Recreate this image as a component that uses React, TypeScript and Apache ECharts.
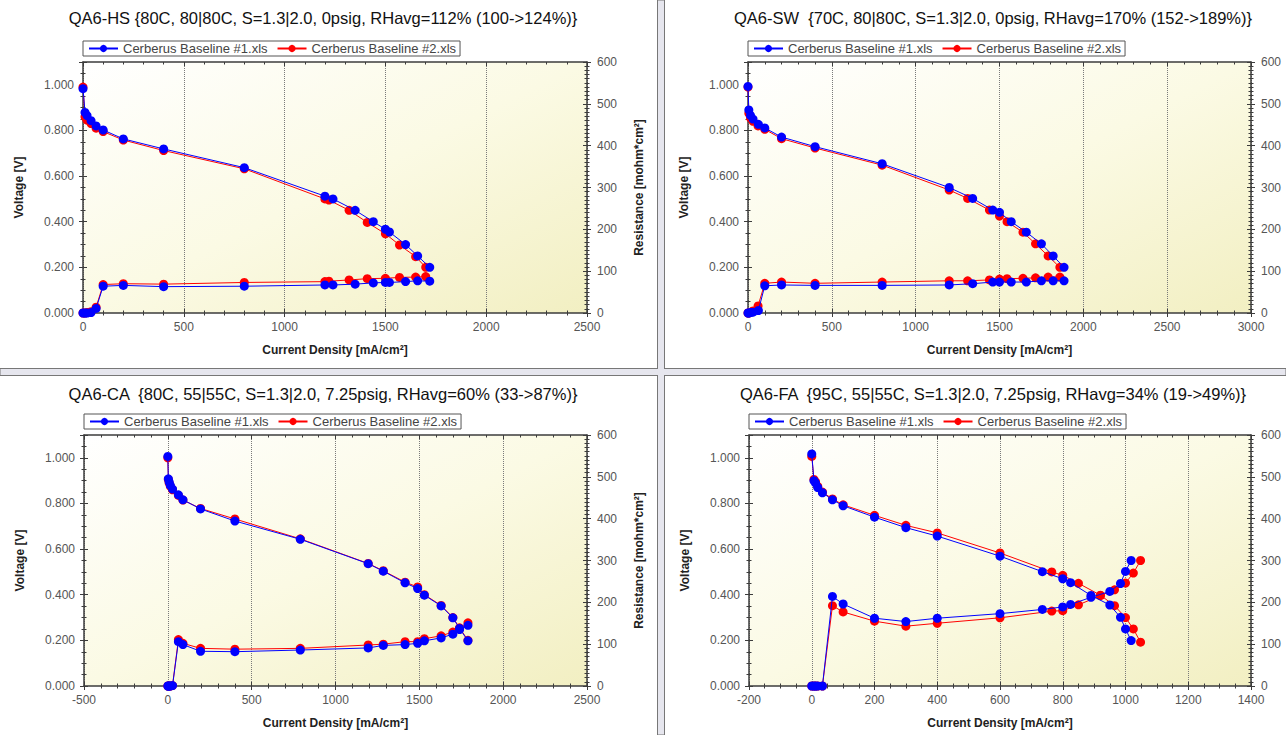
import React, { useEffect, useRef } from "react";
import * as echarts from "echarts";

const NAME1 = "Cerberus Baseline #1.xls";
const NAME2 = "Cerberus Baseline #2.xls";

// ---------- Panel titles ----------
const titles = [
  "QA6-HS {80C, 80|80C, S=1.3|2.0, 0psig, RHavg=112% (100->124%)}",
  "QA6-SW  {70C, 80|80C, S=1.3|2.0, 0psig, RHavg=170% (152->189%)}",
  "QA6-CA  {80C, 55|55C, S=1.3|2.0, 7.25psig, RHavg=60% (33->87%)}",
  "QA6-FA  {95C, 55|55C, S=1.3|2.0, 7.25psig, RHavg=34% (19->49%)}",
];

// ---------- QA6-HS ----------
const hs1Current = [0, 10, 20, 40, 65, 100, 200, 400, 800, 1200, 1240, 1350, 1440, 1500, 1520, 1600, 1660, 1720];
const hs1Voltage = [0.983, 0.879, 0.865, 0.843, 0.82, 0.802, 0.763, 0.719, 0.637, 0.512, 0.5, 0.45, 0.4, 0.367, 0.355, 0.3, 0.25, 0.2];
const hs1Resist = [0, 0, 0, 1, 11, 64, 66, 63, 64, 67, 67, 69, 72, 73, 73, 75, 77, 76];
const hs2Current = [0, 10, 20, 40, 65, 100, 200, 400, 800, 1200, 1220, 1320, 1410, 1500, 1570, 1650, 1700];
const hs2Voltage = [0.99, 0.86, 0.845, 0.83, 0.81, 0.795, 0.758, 0.712, 0.632, 0.5, 0.495, 0.45, 0.397, 0.347, 0.298, 0.247, 0.2];
const hs2Resist = [0, 0, 1, 3, 14, 68, 70, 69, 73, 75, 76, 79, 82, 83, 85, 86, 87];

// ---------- QA6-SW ----------
const sw1Current = [0, 5, 15, 30, 62, 100, 200, 400, 800, 1200, 1340, 1460, 1500, 1570, 1660, 1750, 1820, 1885];
const sw1Voltage = [0.993, 0.89, 0.866, 0.85, 0.827, 0.811, 0.771, 0.729, 0.654, 0.55, 0.502, 0.451, 0.441, 0.4, 0.354, 0.303, 0.25, 0.2];
const sw1Resist = [0, 0, 1, 2, 6, 65, 67, 66, 66, 67, 70, 74, 74, 74, 74, 77, 77, 77];
const sw2Current = [0, 5, 15, 30, 60, 100, 200, 400, 800, 1200, 1310, 1440, 1500, 1545, 1640, 1715, 1790, 1860];
const sw2Voltage = [0.99, 0.875, 0.855, 0.84, 0.82, 0.805, 0.764, 0.723, 0.648, 0.539, 0.502, 0.451, 0.425, 0.4, 0.354, 0.303, 0.25, 0.2];
const sw2Resist = [0, 0, 2, 5, 17, 71, 74, 71, 74, 77, 77, 79, 81, 82, 83, 84, 86, 86];

// ---------- QA6-CA ----------
const ca1Current = [0, 3, 8, 15, 28, 63, 90, 195, 400, 790, 1195, 1285, 1415, 1490, 1530, 1630, 1700, 1740, 1790];
const ca1Voltage = [1.006, 0.908, 0.894, 0.879, 0.863, 0.838, 0.816, 0.776, 0.723, 0.643, 0.536, 0.503, 0.452, 0.427, 0.398, 0.351, 0.299, 0.252, 0.198];
const ca1Resist = [0, 0, 0, 0, 1, 106, 99, 83, 82, 86, 91, 97, 99, 102, 108, 115, 124, 135, 145];
const ca2Current = [0, 3, 8, 15, 28, 63, 90, 195, 400, 790, 1195, 1285, 1415, 1490, 1530, 1630, 1700, 1740, 1790];
const ca2Voltage = [1.0, 0.905, 0.89, 0.875, 0.86, 0.835, 0.815, 0.778, 0.732, 0.645, 0.537, 0.505, 0.455, 0.434, 0.4, 0.353, 0.3, 0.255, 0.2];
const ca2Resist = [0, 0, 0, 0, 1, 111, 102, 90, 88, 90, 98, 100, 106, 106, 113, 120, 129, 137, 151];

// ---------- QA6-FA ----------
const fa1Current = [0, 7, 12, 19, 34, 66, 100, 200, 300, 400, 600, 735, 800, 825, 890, 950, 984, 1000, 1018];
const fa1Voltage = [1.017, 0.9, 0.89, 0.87, 0.847, 0.816, 0.79, 0.74, 0.694, 0.657, 0.569, 0.501, 0.47, 0.453, 0.397, 0.355, 0.301, 0.25, 0.199];
const fa1Resist = [0, 0, 0, 0, 0, 214, 196, 162, 154, 162, 173, 183, 189, 195, 212, 226, 245, 274, 300];
const fa2Current = [0, 7, 12, 19, 34, 66, 100, 200, 300, 400, 600, 765, 800, 850, 920, 965, 1000, 1025, 1048];
const fa2Voltage = [1.006, 0.905, 0.895, 0.875, 0.85, 0.82, 0.794, 0.748, 0.704, 0.671, 0.583, 0.5, 0.485, 0.45, 0.398, 0.352, 0.3, 0.25, 0.192];
const fa2Resist = [0, 0, 0, 0, 0, 192, 177, 155, 143, 150, 163, 179, 180, 194, 216, 230, 246, 270, 300];

// ---------- Axis ranges ----------
const xRanges = [
  { min: 0, max: 2500, interval: 500, minor: 5 },
  { min: 0, max: 3000, interval: 500, minor: 5 },
  { min: -500, max: 2500, interval: 500, minor: 5 },
  { min: -200, max: 1400, interval: 200, minor: 4 },
];
const voltageAxis = { min: 0, max: 1.1, interval: 0.2, minor: 4 };
const resistAxis = { min: 0, max: 600, interval: 100, minor: 10 };

const xAxisName = "Current Density [mA/cm²]";
const yLeftName = "Voltage [V]";
const yRightName = "Resistance [mohm*cm²]";
// right-axis title only visible on the left-hand panels (right panels are cropped)
const showRightName = [true, false, true, false];

const panelData = [
  { c1: hs1Current, v1: hs1Voltage, r1: hs1Resist, c2: hs2Current, v2: hs2Voltage, r2: hs2Resist },
  { c1: sw1Current, v1: sw1Voltage, r1: sw1Resist, c2: sw2Current, v2: sw2Voltage, r2: sw2Resist },
  { c1: ca1Current, v1: ca1Voltage, r1: ca1Resist, c2: ca2Current, v2: ca2Voltage, r2: ca2Resist },
  { c1: fa1Current, v1: fa1Voltage, r1: fa1Resist, c2: fa2Current, v2: fa2Voltage, r2: fa2Resist },
];

// layout (pixels)
const gridBoxes = [
  { left: 83, top: 62, width: 504, height: 251, titleX: 323, titleY: 18 },
  { left: 748, top: 62, width: 503, height: 251, titleX: 993, titleY: 18 },
  { left: 84, top: 435, width: 503, height: 251, titleX: 323, titleY: 394 },
  { left: 749, top: 435, width: 502, height: 251, titleX: 993, titleY: 394 },
];

const FONT = '"Liberation Sans", Arial, Helvetica, sans-serif';
const AXIS_COLOR = "#3c3c3c";
const BLUE = "#0000ff";
const RED = "#ff0000";

function pairs(xs: number[], ys: number[]) {
  return xs.map((x, i) => [x, ys[i]]);
}

function buildOption() {
  const grid: any[] = [];
  const xAxis: any[] = [];
  const yAxis: any[] = [];
  const series: any[] = [];
  const legend: any[] = [];
  const graphic: any[] = [];

  const lineStyle = { color: AXIS_COLOR, width: 1.5 };
  const tickStyle = { color: AXIS_COLOR, width: 1 };

  gridBoxes.forEach((g, k) => {
    grid.push({
      left: g.left,
      top: g.top,
      width: g.width,
      height: g.height,
      containLabel: false,
      outerBoundsMode: "none",
      show: true,
      borderWidth: 0,
      backgroundColor: new echarts.graphic.LinearGradient(0, 0, 1, 1, [
        { offset: 0, color: "#ffffff" },
        { offset: 0.5, color: "#fbfae4" },
        { offset: 1, color: "#f2efc2" },
      ]),
    });
    const xr = xRanges[k];
    const xBase = { type: "value", gridIndex: k, min: xr.min, max: xr.max, interval: xr.interval };
    xAxis.push({
      ...xBase,
      position: "bottom",
      axisLine: { show: true, onZero: false, lineStyle },
      axisTick: { show: true, length: 4, lineStyle: tickStyle },
      minorTick: { show: true, splitNumber: xr.minor, length: 2.5, lineStyle: tickStyle },
      axisLabel: {
        show: true,
        margin: 8,
        fontSize: 12,
        color: "#555",
        fontFamily: FONT,
        formatter: (v: number) => String(v),
      },
      splitLine: { show: true, lineStyle: { type: "dotted", color: "#7a7a7a", width: 1 } },
      name: xAxisName,
      nameLocation: "middle",
      nameGap: 31,
      nameTextStyle: { fontWeight: "bold", fontSize: 12, color: "#222", fontFamily: FONT },
    });
    xAxis.push({
      ...xBase,
      position: "bottom",
      axisLine: { show: false, onZero: false },
      axisTick: { show: true, inside: true, length: 4, lineStyle: tickStyle },
      minorTick: { show: true, splitNumber: xr.minor, length: 2.5, lineStyle: tickStyle },
      axisLabel: { show: false },
      splitLine: { show: false },
    });
    xAxis.push({
      ...xBase,
      position: "top",
      axisLine: { show: true, onZero: false, lineStyle },
      axisTick: { show: true, inside: true, length: 4, lineStyle: tickStyle },
      minorTick: { show: true, splitNumber: xr.minor, length: 2.5, lineStyle: tickStyle },
      axisLabel: { show: false },
      splitLine: { show: false },
    });

    const vBase = { type: "value", gridIndex: k, min: voltageAxis.min, max: voltageAxis.max, interval: voltageAxis.interval };
    const rBase = { type: "value", gridIndex: k, min: resistAxis.min, max: resistAxis.max, interval: resistAxis.interval };
    yAxis.push({
      ...vBase,
      position: "left",
      axisLine: { show: true, onZero: false, lineStyle },
      axisTick: { show: true, length: 4, lineStyle: tickStyle },
      minorTick: { show: true, splitNumber: voltageAxis.minor, length: 2.5, lineStyle: tickStyle },
      axisLabel: {
        show: true,
        margin: 9,
        fontSize: 12,
        color: "#555",
        fontFamily: FONT,
        showMaxLabel: false,
        formatter: (v: number) => (v > 1.05 ? "" : v.toFixed(3)),
      },
      splitLine: { show: false },
      name: yLeftName,
      nameLocation: "middle",
      nameGap: 58,
      nameTextStyle: { fontWeight: "bold", fontSize: 12, color: "#222", fontFamily: FONT },
    });
    yAxis.push({
      ...vBase,
      position: "left",
      axisLine: { show: false, onZero: false },
      axisTick: { show: true, inside: true, length: 4, lineStyle: tickStyle },
      minorTick: { show: true, splitNumber: voltageAxis.minor, length: 2.5, lineStyle: tickStyle },
      axisLabel: { show: false },
      splitLine: { show: false },
    });
    yAxis.push({
      ...rBase,
      position: "right",
      axisLine: { show: true, onZero: false, lineStyle },
      axisTick: { show: true, length: 4, lineStyle: tickStyle },
      minorTick: { show: true, splitNumber: resistAxis.minor, length: 2.5, lineStyle: tickStyle },
      axisLabel: { show: true, margin: 10, fontSize: 12, color: "#555", fontFamily: FONT },
      splitLine: { show: false },
      name: showRightName[k] ? yRightName : "",
      nameLocation: "middle",
      nameGap: 46,
      nameTextStyle: { fontWeight: "bold", fontSize: 12, color: "#222", fontFamily: FONT },
    });
    yAxis.push({
      ...rBase,
      position: "right",
      axisLine: { show: false, onZero: false },
      axisTick: { show: true, inside: true, length: 4, lineStyle: tickStyle },
      minorTick: { show: true, splitNumber: resistAxis.minor, length: 2.5, lineStyle: tickStyle },
      axisLabel: { show: false },
      splitLine: { show: false },
    });

    const d = panelData[k];
    const mk = (name: string, color: string, data: number[][], yIdx: number, z: number) => ({
      type: "line",
      name,
      xAxisIndex: 3 * k,
      yAxisIndex: yIdx,
      data,
      symbol: "circle",
      symbolSize: 9,
      showSymbol: true,
      lineStyle: { color, width: 1 },
      itemStyle: { color },
      z,
      emphasis: { disabled: true },
    });
    series.push(mk(NAME2, RED, pairs(d.c2, d.v2), 4 * k, 3));
    series.push(mk(NAME2, RED, pairs(d.c2, d.r2), 4 * k + 2, 3));
    series.push(mk(NAME1, BLUE, pairs(d.c1, d.v1), 4 * k, 4));
    series.push(mk(NAME1, BLUE, pairs(d.c1, d.r1), 4 * k + 2, 4));

    legend.push({
      left: g.left,
      top: g.top - 21,
      orient: "horizontal",
      data: [NAME1, NAME2],
      borderColor: "#555",
      borderWidth: 1,
      padding: [1, 4, 1, 5],
      itemGap: 9,
      itemWidth: 29,
      itemHeight: 9,
      selectedMode: false,
      textStyle: { fontSize: 13, color: "#444", fontFamily: FONT, lineHeight: 12 },
    });

    graphic.push({
      type: "text",
      x: g.titleX,
      y: g.titleY,
      style: {
        text: titles[k],
        fontSize: 16.5,
        fontFamily: FONT,
        fill: "#111111",
        textAlign: "center",
        textVerticalAlign: "middle",
        align: "center",
        verticalAlign: "middle",
      },
    });
  });

  // window separators
  const sepStroke = "#777777";
  const sepFill = "#e6e6ee";
  graphic.push({
    type: "rect",
    shape: { x: 0, y: 368.5, width: 1286, height: 7 },
    style: { fill: sepFill, stroke: sepStroke, lineWidth: 1 },
    z: 10,
  });
  graphic.push({
    type: "rect",
    shape: { x: 657.5, y: 0, width: 7, height: 735 },
    style: { fill: sepFill, stroke: sepStroke, lineWidth: 1 },
    z: 10,
  });
  graphic.push({
    type: "rect",
    shape: { x: 658, y: 368, width: 6, height: 8 },
    style: { fill: sepFill },
    z: 11,
  });
  graphic.push({
    type: "rect",
    shape: { x: 657, y: 369, width: 8, height: 6 },
    style: { fill: sepFill },
    z: 11,
  });

  return {
    animation: false,
    backgroundColor: "#ffffff",
    textStyle: { fontFamily: FONT },
    grid,
    xAxis,
    yAxis,
    series,
    legend,
    graphic,
  };
}

export default function App() {
  const ref = useRef<HTMLDivElement>(null);
  useEffect(() => {
    if (!ref.current) return;
    const chart = echarts.init(ref.current, undefined, { renderer: "svg" });
    chart.setOption(buildOption() as any);
    return () => chart.dispose();
  }, []);
  return (
    <div
      ref={ref}
      style={{ position: "absolute", left: 0, top: 0, width: 1286, height: 735 }}
    />
  );
}
